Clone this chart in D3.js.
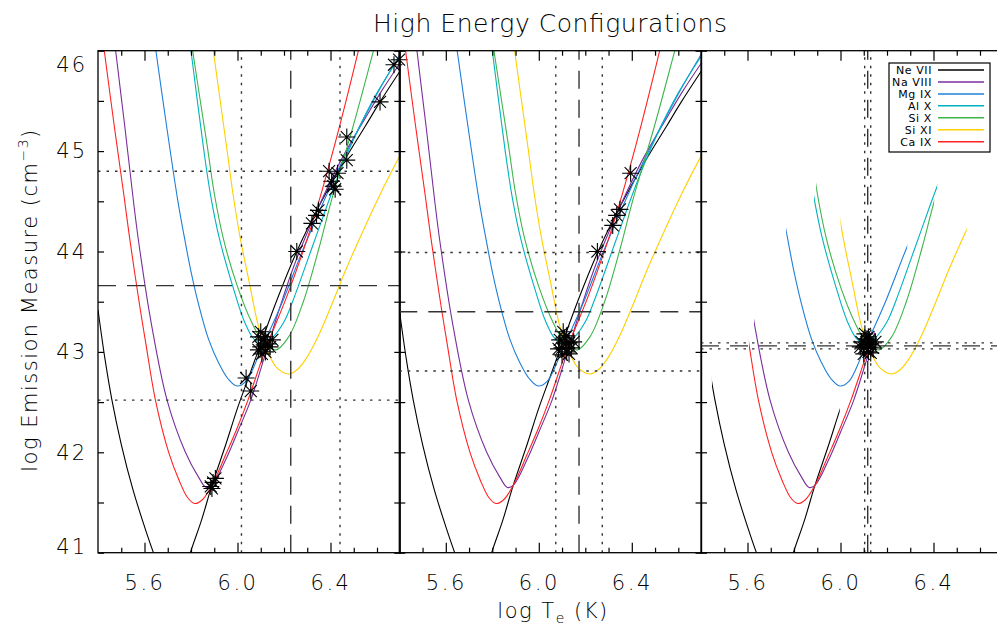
<!DOCTYPE html>
<html><head><meta charset="utf-8">
<script src="https://cdn.jsdelivr.net/npm/d3@7"></script>
<style>body{margin:0;background:#fff;overflow:hidden;} svg{display:block;} text{font-family:'DejaVu Sans',sans-serif;fill:#000;}</style>
</head><body><svg id="c" width="997" height="625"></svg>
<script>
// ---------------- data ----------------
const ions = ["Ne VII","Na VIII","Mg IX","Al X","Si X","Si XI","Ca IX"];
const colors = ["#000000","#7a2e9c","#1f7fd8","#00b2c2","#3db54a","#ffd000","#ff2222"];

// EM loci curves [log T, log EM]
const neVII = [[5.40,43.42],[5.43,42.93],[5.46,42.52],[5.50,42.08],[5.55,41.63],[5.60,41.26],[5.64,40.99],[5.68,40.75],[5.72,40.62],[5.76,40.72],[5.80,41.02],[5.846,41.33],[5.89,41.67],[5.95,42.08],[6.00,42.44],[6.05,42.76],[6.10,43.08],[6.17,43.52],[6.255,44.0],[6.35,44.45],[6.45,44.87],[6.55,45.25],[6.613,45.49],[6.70,45.80]];
const naVIII = [[5.44,46.75],[5.476,46.0],[5.515,45.25],[5.552,44.51],[5.574,44.11],[5.628,43.30],[5.697,42.52],[5.776,42.0],[5.833,41.75],[5.865,41.65],[5.89,41.67],[5.95,41.93],[6.0,42.2],[6.057,42.52],[6.12,42.98],[6.183,43.45],[6.25,43.9],[6.35,44.45],[6.45,44.93],[6.55,45.33],[6.62,45.6],[6.70,45.88]];
const mgIX = [[5.62,46.5],[5.649,46.0],[5.70,45.17],[5.743,44.51],[5.774,44.11],[5.80,43.8],[5.833,43.47],[5.875,43.13],[5.919,42.89],[5.96,42.73],[5.998,42.66],[6.037,42.71],[6.07,42.85],[6.10,43.02],[6.15,43.27],[6.197,43.52],[6.287,44.05],[6.40,44.65],[6.50,45.13],[6.60,45.57],[6.70,45.97]];
const alX = [[5.77,46.55],[5.80,46.0],[5.855,45.01],[5.885,44.55],[5.922,44.13],[5.98,43.65],[6.03,43.3],[6.07,43.13],[6.11,43.08],[6.15,43.14],[6.20,43.3],[6.24,43.52],[6.33,44.1],[6.416,44.65],[6.50,45.12],[6.60,45.58],[6.70,45.95]];
const siX = [[5.78,46.45],[5.807,46.0],[5.87,45.05],[5.90,44.58],[5.94,44.12],[6.0,43.65],[6.06,43.3],[6.11,43.1],[6.165,43.02],[6.22,43.15],[6.283,43.5],[6.35,44.03],[6.403,44.5],[6.50,45.27],[6.585,46.0],[6.62,46.3]];
const siXI = [[5.87,46.45],[5.896,46.0],[5.955,45.01],[5.982,44.55],[6.012,44.13],[6.05,43.7],[6.091,43.25],[6.13,43.0],[6.17,42.84],[6.22,42.78],[6.26,42.83],[6.30,42.95],[6.35,43.17],[6.405,43.47],[6.47,43.84],[6.543,44.22],[6.62,44.6],[6.70,44.96]];
const caIX = [[5.40,46.5],[5.427,46.0],[5.47,45.25],[5.512,44.55],[5.535,44.15],[5.58,43.45],[5.606,43.08],[5.647,42.52],[5.704,42.0],[5.749,41.72],[5.785,41.55],[5.816,41.49],[5.85,41.53],[5.89,41.67],[5.95,41.98],[6.0,42.25],[6.045,42.52],[6.12,43.02],[6.22,43.6],[6.32,44.27],[6.42,45.08],[6.52,46.0],[6.55,46.3]];
const series = [neVII, naVIII, mgIX, alX, siX, siXI, caIX];

// log T range of each locus shown in the third panel
const p3Tmin = [5.447, 5.628, 5.766, 5.886, 5.895, 6.000, 5.606];
const p3Tmax = [5.997, 6.148, 6.287, 6.416, 6.403, 6.543, 6.130];

// crossing points (asterisks) per panel
const stars1 = [[5.885,41.66],[5.895,41.70],[5.905,41.74],[5.89,41.64],
  [6.037,42.74],[6.057,42.61],
  [6.09,43.15],[6.10,43.05],[6.11,43.12],[6.12,43.00],[6.13,43.08],[6.10,43.20],[6.14,43.05],[6.12,43.15],[6.105,42.98],[6.15,43.12],[6.09,43.02],[6.115,43.07],
  [6.255,44.0],[6.32,44.28],[6.34,44.36],[6.348,44.41],[6.394,44.80],[6.43,44.78],[6.405,44.70],[6.412,44.65],[6.42,44.62],[6.47,44.91],[6.47,45.14],[6.613,45.49],[6.673,45.86],[6.695,45.91]];
const stars2 = [[6.09,43.12],[6.10,43.04],[6.11,43.14],[6.12,43.00],[6.13,43.09],[6.105,43.20],[6.14,43.04],[6.12,43.16],[6.10,42.97],[6.15,43.10],[6.085,43.03],[6.115,43.08],[6.13,42.98],
  [6.252,44.0],[6.318,44.26],[6.335,44.36],[6.349,44.42],[6.395,44.78]];
const stars3 = [[6.09,43.10],[6.10,43.04],[6.11,43.13],[6.12,43.00],[6.13,43.08],[6.105,43.18],[6.14,43.04],[6.12,43.15],[6.10,42.98],[6.15,43.10],[6.085,43.05],[6.115,43.07],[6.13,42.99],[6.125,43.12]];

// mean and spread lines per panel
const meanT  = [6.229, 6.173, 6.117];
const sigT   = [0.212, 0.100, 0.013];
const meanEM = [43.66, 43.40, 43.06];
const sigEM  = [1.140, 0.590, 0.030];

// axis ticks
const xMajor = [5.6, 6.0, 6.4];
const xMinor = [5.5, 5.7, 5.8, 5.9, 6.1, 6.2, 6.3, 6.5, 6.6];
const yMajor = [41, 42, 43, 44, 45, 46];
const yMinor = [41.5, 42.5, 43.5, 44.5, 45.5];

// ---------------- drawing ----------------
const svg = d3.select("#c");
const top_ = 50.7, bot = 552.7, pw = 302.25;
const lefts = [98, 399.3, 701];
const y = d3.scaleLinear().domain([41, 46]).range([bot, top_]);
const starSets = [stars1, stars2, stars3];
const defs = svg.append("defs");

lefts.forEach((L, p) => {
  const x = d3.scaleLinear().domain([5.4, 6.7]).range([L, L + pw]);
  defs.append("clipPath").attr("id", "clip" + p).append("rect")
    .attr("x", L).attr("y", top_).attr("width", pw).attr("height", bot - top_);
  const g = svg.append("g").attr("clip-path", `url(#clip${p})`);
  const line = d3.line().x(d => x(d[0])).y(d => y(d[1])).curve(d3.curveCatmullRom.alpha(0.5));

  series.forEach((s, i) => {
    let gg = g;
    if (p === 2) {
      defs.append("clipPath").attr("id", `c3_${i}`).append("rect")
        .attr("x", x(p3Tmin[i])).attr("y", top_)
        .attr("width", x(p3Tmax[i]) - x(p3Tmin[i])).attr("height", bot - top_);
      gg = g.append("g").attr("clip-path", `url(#c3_${i})`);
    }
    gg.append("path").attr("d", line(s)).attr("fill", "none")
      .attr("stroke", colors[i]).attr("stroke-width", 1.1);
  });

  // reference lines
  const ref = g.append("g").attr("stroke", "#333").attr("stroke-width", 1.4).attr("fill", "none");
  [[meanT[p], "18,11"], [meanT[p] - sigT[p], "2.5,6"], [meanT[p] + sigT[p], "2.5,6"]].forEach(([t, da]) => {
    ref.append("line").attr("x1", x(t)).attr("x2", x(t)).attr("y1", bot).attr("y2", top_).attr("stroke-dasharray", da);
  });
  [[meanEM[p], "18,11"], [meanEM[p] - sigEM[p], "2.5,6"], [meanEM[p] + sigEM[p], "2.5,6"]].forEach(([e, da]) => {
    ref.append("line").attr("x1", L).attr("x2", L + pw).attr("y1", y(e)).attr("y2", y(e)).attr("stroke-dasharray", da);
  });

  // asterisks
  const r = 8.5, d = 6;
  const ast = `M${-r},0H${r}M0,${-r}V${r}M${-d},${-d}L${d},${d}M${-d},${d}L${d},${-d}`;
  svg.append("g").selectAll("path").data(starSets[p]).join("path")
    .attr("transform", s => `translate(${x(s[0])},${y(s[1])})`)
    .attr("d", ast).attr("stroke", "#000").attr("stroke-width", 1.1).attr("fill", "none");

  // axes
  const ax = (gen, tr) => {
    const a = svg.append("g").attr("transform", tr).call(gen);
    a.select(".domain").remove();
    a.selectAll("line").attr("stroke", "#000").attr("stroke-width", 1.2);
    return a;
  };
  const bMaj = ax(d3.axisBottom(x).tickValues(xMajor).tickSize(-10).tickSizeOuter(0).tickPadding(22).tickFormat(d3.format(".1f")), `translate(0,${bot})`);
  bMaj.selectAll("text").attr("font-size", 21).attr("font-weight", 200).attr("letter-spacing", "2.5px").attr("fill", "#000");
  ax(d3.axisBottom(x).tickValues(xMinor).tickSize(-5).tickSizeOuter(0).tickFormat(""), `translate(0,${bot})`);
  ax(d3.axisTop(x).tickValues(xMajor).tickSize(-10).tickSizeOuter(0).tickFormat(""), `translate(0,${top_})`);
  ax(d3.axisTop(x).tickValues(xMinor).tickSize(-5).tickSizeOuter(0).tickFormat(""), `translate(0,${top_})`);
  const lAx = ax(d3.axisLeft(y).tickValues(yMajor).tickSize(-6).tickSizeOuter(0).tickPadding(13)
      .tickFormat(p === 0 ? d3.format("d") : ""), `translate(${L},0)`);
  if (p === 0) {
    lAx.selectAll("text").attr("font-size", 21).attr("font-weight", 200).attr("letter-spacing", "2px").attr("fill", "#000")
      .attr("dx", 2)
      .attr("dy", v => v === 46 ? "1.0em" : (v === 41 ? "0.05em" : "0.32em"));
  }
  ax(d3.axisLeft(y).tickValues(yMinor).tickSize(-6).tickSizeOuter(0).tickFormat(""), `translate(${L},0)`);
  ax(d3.axisRight(y).tickValues(yMajor.concat(yMinor)).tickSize(-6).tickSizeOuter(0).tickFormat(""), `translate(${L + pw},0)`);

  svg.append("rect").attr("x", L).attr("y", top_).attr("width", pw).attr("height", bot - top_)
    .attr("fill", "none").attr("stroke", "#000").attr("stroke-width", 1.3);
});

// title and axis titles
svg.append("text").attr("x", 550).attr("y", 32).attr("text-anchor", "middle")
  .attr("font-size", 25).attr("font-weight", 200).attr("textLength", 354).attr("lengthAdjust", "spacing")
  .attr("fill", "#000").text("High Energy Configurations");

const xt = svg.append("text").attr("x", 553).attr("y", 618).attr("text-anchor", "middle")
  .attr("font-size", 21).attr("font-weight", 200).attr("letter-spacing", "1.5px").attr("fill", "#000");
xt.append("tspan").text("log T");
xt.append("tspan").attr("font-size", 14).attr("dy", 5).text("e");
xt.append("tspan").attr("dy", -5).text(" (K)");

const yt = svg.append("text").attr("transform", "translate(37,300) rotate(-90)").attr("text-anchor", "middle")
  .attr("font-size", 21).attr("font-weight", 200).attr("letter-spacing", "1.5px").attr("fill", "#000");
yt.append("tspan").text("log Emission Measure (cm");
yt.append("tspan").attr("font-size", 14).attr("dy", -9).text("−3");
yt.append("tspan").attr("dy", 9).text(")");

// legend
const lg = svg.append("g");
lg.append("rect").attr("x", 889).attr("y", 63).attr("width", 101).attr("height", 89)
  .attr("fill", "#fff").attr("stroke", "#000").attr("stroke-width", 1.2);
ions.forEach((n, i) => {
  const yy = 70 + i * 11.95;
  lg.append("text").attr("x", 932).attr("y", yy + 4).attr("text-anchor", "end")
    .attr("font-size", 11).attr("letter-spacing", "0.6px").text(n);
  lg.append("line").attr("x1", 938).attr("x2", 984).attr("y1", yy).attr("y2", yy)
    .attr("stroke", colors[i]).attr("stroke-width", 1.5);
});
</script></body></html>
